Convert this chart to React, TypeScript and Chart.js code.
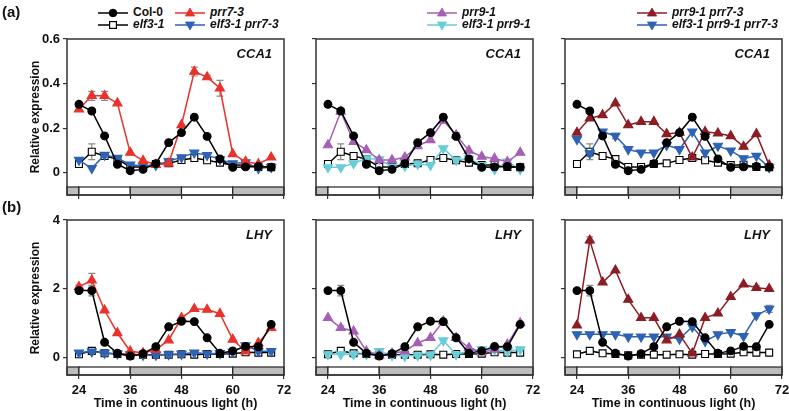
import React, { useEffect, useRef } from 'react';
import { Chart, registerables } from 'chart.js';

Chart.register(...registerables);

const FONT = '"Liberation Sans", Arial, Helvetica, sans-serif';
Chart.defaults.font.family = FONT;

// ---------- data ----------
const TIMES = [24, 27, 30, 33, 36, 39, 42, 45, 48, 51, 54, 57, 60, 63, 66, 69];
const X_TICKS = [24, 36, 48, 60, 72];
const X_MIN = 21.2;
const X_MAX = 72;
const PHOTO_EDGES = [21.2, 24, 36, 48, 60, 72];
const PHOTO_DARK = [true, false, true, false, true];

const Y_TICKS_CCA1 = [0, 0.2, 0.4, 0.6];
const Y_RANGE_CCA1 = [-0.1, 0.6];
const Y_TICKS_LHY = [0, 2, 4];
const Y_RANGE_LHY = [-0.5, 4];

// CCA1
const col0CCA1 = [0.307, 0.277, 0.165, 0.038, 0.009, 0.015, 0.041, 0.135, 0.18, 0.249, 0.163, 0.062, 0.024, 0.026, 0.028, 0.025];
const elf3CCA1 = [0.039, 0.094, 0.075, 0.061, 0.026, 0.026, 0.039, 0.042, 0.057, 0.066, 0.056, 0.045, 0.034, 0.036, 0.026, 0.025];
const prr7CCA1 = [0.285, 0.345, 0.345, 0.312, 0.09, 0.054, 0.036, 0.042, 0.214, 0.454, 0.429, 0.379, 0.084, 0.05, 0.039, 0.069];
const elf3prr7CCA1 = [0.057, 0.02, 0.08, 0.066, 0.036, 0.03, 0.034, 0.052, 0.069, 0.09, 0.079, 0.06, 0.042, 0.046, 0.02, 0.025];
const prr9CCA1 = [0.124, 0.274, 0.139, 0.102, 0.057, 0.057, 0.069, 0.12, 0.147, 0.234, 0.169, 0.099, 0.072, 0.064, 0.049, 0.09];
const elf3prr9CCA1 = [0.024, 0.024, 0.042, 0.064, 0.06, 0.027, 0.03, 0.039, 0.034, 0.109, 0.057, 0.064, 0.034, 0.015, 0.049, 0.015];
const prr9prr7CCA1 = [0.18, 0.244, 0.259, 0.312, 0.214, 0.229, 0.229, 0.174, 0.18, 0.069, 0.184, 0.177, 0.165, 0.117, 0.174, 0.034];
const tripleCCA1 = [0.15, 0.087, 0.184, 0.165, 0.105, 0.09, 0.09, 0.124, 0.105, 0.184, 0.09, 0.12, 0.099, 0.064, 0.075, 0.024];

// LHY
const col0LHY = [1.95, 1.95, 0.45, 0.13, 0.05, 0.12, 0.32, 0.9, 1.06, 1.05, 0.58, 0.13, 0.2, 0.33, 0.32, 0.97];
const elf3LHY = [0.1, 0.2, 0.13, 0.11, 0.07, 0.09, 0.09, 0.09, 0.1, 0.09, 0.11, 0.11, 0.12, 0.16, 0.15, 0.15];
const prr7LHY = [2.06, 2.25, 1.38, 0.72, 0.19, 0.14, 0.24, 0.51, 1.16, 1.42, 1.4, 1.28, 0.53, 0.19, 0.43, 0.87];
const elf3prr7LHY = [0.15, 0.18, 0.14, 0.12, 0.1, 0.08, 0.08, 0.1, 0.11, 0.15, 0.12, 0.13, 0.17, 0.36, 0.19, 0.19];
const prr9LHY = [1.16, 0.87, 0.77, 0.19, 0.07, 0.13, 0.19, 0.43, 0.58, 1.06, 0.58, 0.29, 0.16, 0.24, 0.39, 1.01];
const elf3prr9LHY = [0.1, 0.1, 0.1, 0.1, 0.19, 0.07, 0.05, 0.07, 0.08, 0.5, 0.1, 0.19, 0.24, 0.24, 0.19, 0.24];
const prr9prr7LHY = [0.94, 3.41, 2.19, 2.54, 1.69, 1.16, 1.16, 0.51, 0.68, 0.13, 1.16, 1.29, 1.77, 2.13, 2.03, 2.0];
const tripleLHY = [0.68, 0.68, 0.68, 0.68, 0.61, 0.61, 0.61, 0.61, 0.55, 0.9, 0.48, 0.68, 0.74, 0.63, 1.23, 1.42];

// error bars (SE), 0 = not visible
const errCol0CCA1 = [0.01, 0.01, 0, 0, 0, 0, 0, 0, 0, 0, 0, 0, 0, 0, 0, 0];
const errElf3CCA1 = [0, 0.035, 0, 0.005, 0, 0, 0, 0, 0, 0, 0, 0, 0, 0, 0, 0];
const errPrr7CCA1 = [0.01, 0.02, 0.02, 0, 0, 0, 0, 0, 0, 0.02, 0.008, 0.035, 0, 0, 0, 0];
const errPrr9CCA1 = [0, 0.01, 0, 0, 0, 0, 0, 0, 0, 0, 0.012, 0, 0, 0, 0, 0];
const errTripleCCA1 = [0, 0.015, 0, 0.012, 0, 0, 0, 0, 0, 0, 0, 0, 0, 0, 0, 0];
const errCol0LHY = [0.05, 0.15, 0, 0, 0, 0, 0, 0, 0, 0, 0, 0, 0, 0, 0, 0];
const errPrr7LHY = [0.05, 0.2, 0, 0, 0, 0, 0, 0, 0, 0, 0, 0, 0, 0, 0, 0];
const errPrr9LHY = [0, 0.06, 0, 0, 0, 0, 0, 0, 0, 0, 0, 0, 0, 0, 0, 0];
const errPrr9prr7LHY = [0, 0.1, 0, 0, 0, 0, 0, 0, 0, 0, 0, 0, 0, 0, 0.06, 0];
const errTripleLHY = [0, 0, 0, 0, 0, 0, 0, 0, 0, 0, 0, 0, 0, 0, 0, 0.1];

// ---------- styles ----------
const STYLES = {
  col0: { color: '#000000', fill: '#000000', point: 'circle', rot: 0, r: 3.9 },
  elf3: { color: '#000000', fill: '#ffffff', point: 'rect', rot: 0, r: 4.9 },
  prr7: { color: '#e8322b', fill: '#e8322b', point: 'triangle', rot: 0, r: 5.3 },
  elf3prr7: { color: '#2e62b4', fill: '#2e62b4', point: 'triangle', rot: 180, r: 5.3 },
  prr9: { color: '#a55fb4', fill: '#a55fb4', point: 'triangle', rot: 0, r: 5.3 },
  elf3prr9: { color: '#68cdd6', fill: '#68cdd6', point: 'triangle', rot: 180, r: 5.3 },
  prr9prr7: { color: '#8c1d25', fill: '#8c1d25', point: 'triangle', rot: 0, r: 5.3 },
  triple: { color: '#2e62b4', fill: '#2e62b4', point: 'triangle', rot: 180, r: 5.3 },
};

const PANELS = [
  { row: 0, col: 0, gene: 'CCA1', series: [
    { k: 'col0', data: col0CCA1, err: errCol0CCA1 },
    { k: 'prr7', data: prr7CCA1, err: errPrr7CCA1 },
    { k: 'elf3prr7', data: elf3prr7CCA1 },
    { k: 'elf3', data: elf3CCA1, err: errElf3CCA1 },
  ] },
  { row: 0, col: 1, gene: 'CCA1', series: [
    { k: 'col0', data: col0CCA1, err: errCol0CCA1 },
    { k: 'prr9', data: prr9CCA1, err: errPrr9CCA1 },
    { k: 'elf3prr9', data: elf3prr9CCA1 },
    { k: 'elf3', data: elf3CCA1, err: errElf3CCA1 },
  ] },
  { row: 0, col: 2, gene: 'CCA1', series: [
    { k: 'col0', data: col0CCA1, err: errCol0CCA1 },
    { k: 'prr9prr7', data: prr9prr7CCA1 },
    { k: 'triple', data: tripleCCA1, err: errTripleCCA1 },
    { k: 'elf3', data: elf3CCA1, err: errElf3CCA1 },
  ] },
  { row: 1, col: 0, gene: 'LHY', series: [
    { k: 'col0', data: col0LHY, err: errCol0LHY },
    { k: 'prr7', data: prr7LHY, err: errPrr7LHY },
    { k: 'elf3prr7', data: elf3prr7LHY },
    { k: 'elf3', data: elf3LHY },
  ] },
  { row: 1, col: 1, gene: 'LHY', series: [
    { k: 'col0', data: col0LHY, err: errCol0LHY },
    { k: 'prr9', data: prr9LHY, err: errPrr9LHY },
    { k: 'elf3prr9', data: elf3prr9LHY },
    { k: 'elf3', data: elf3LHY },
  ] },
  { row: 1, col: 2, gene: 'LHY', series: [
    { k: 'col0', data: col0LHY, err: errCol0LHY },
    { k: 'prr9prr7', data: prr9prr7LHY, err: errPrr9prr7LHY },
    { k: 'triple', data: tripleLHY, err: errTripleLHY },
    { k: 'elf3', data: elf3LHY },
  ] },
];

// ---------- geometry ----------
const PLOT_LEFTS = [67, 316, 565];
const PLOT_W = 217;
const ROW_TOPS = [39, 220];
const ROW_H = [156, 155];
const AXIS_W = 62;
const PAD_T = 12;
const PAD_R = 12;
const BOTTOM_H = [12, 35];

const decorPlugin = {
  id: 'panelDecor',
  beforeDatasetsDraw(chart) {
    const { ctx, chartArea: a, scales } = chart;
    const x = scales.x;
    const y = scales.y;
    ctx.save();
    const barTop = a.bottom - 8;
    for (let i = 0; i < PHOTO_DARK.length; i++) {
      const x0 = x.getPixelForValue(PHOTO_EDGES[i]);
      const x1 = x.getPixelForValue(PHOTO_EDGES[i + 1]);
      ctx.fillStyle = PHOTO_DARK[i] ? '#bdbdbd' : '#ffffff';
      ctx.fillRect(x0, barTop, x1 - x0, a.bottom - barTop);
      ctx.strokeStyle = '#222';
      ctx.lineWidth = 1.2;
      ctx.strokeRect(x0, barTop, x1 - x0, a.bottom - barTop);
    }
    chart.data.datasets.forEach((ds) => {
      const errs = ds.errors;
      if (!errs) return;
      ds.data.forEach((p, i) => {
        const e = errs[i];
        if (!e) return;
        const px = x.getPixelForValue(p.x);
        const yt = y.getPixelForValue(p.y + e);
        const yb = y.getPixelForValue(p.y - e);
        ctx.strokeStyle = '#8a8a8a';
        ctx.lineWidth = 1.2;
        ctx.beginPath();
        ctx.moveTo(px, yt); ctx.lineTo(px, yb);
        ctx.moveTo(px - 3.5, yt); ctx.lineTo(px + 3.5, yt);
        ctx.moveTo(px - 3.5, yb); ctx.lineTo(px + 3.5, yb);
        ctx.stroke();
      });
    });
    ctx.restore();
  },
  afterDatasetsDraw(chart, args, opts) {
    const { ctx, chartArea: a } = chart;
    ctx.save();
    ctx.strokeStyle = '#333';
    ctx.lineWidth = 1.5;
    ctx.strokeRect(a.left, a.top, a.right - a.left, a.bottom - a.top);
    ctx.fillStyle = '#111';
    ctx.font = `italic bold 13px ${FONT}`;
    ctx.textAlign = 'right';
    ctx.textBaseline = 'middle';
    ctx.fillText(opts.gene, a.right - 12, a.top + 15);
    ctx.restore();
  },
};

function Panel({ def }) {
  const ref = useRef(null);
  const isBottom = def.row === 1;
  const isLeft = def.col === 0;
  const W = AXIS_W + PLOT_W + PAD_R;
  const H = PAD_T + ROW_H[def.row] + BOTTOM_H[def.row];
  const left = PLOT_LEFTS[def.col] - AXIS_W;
  const top = ROW_TOPS[def.row] - PAD_T;
  const yTicks = isBottom ? Y_TICKS_LHY : Y_TICKS_CCA1;
  const yRange = isBottom ? Y_RANGE_LHY : Y_RANGE_CCA1;

  useEffect(() => {
    const chart = new Chart(ref.current, {
      type: 'line',
      data: {
        datasets: def.series.map((s) => {
          const st = STYLES[s.k];
          return {
            label: s.k,
            data: TIMES.map((t, i) => ({ x: t, y: s.data[i] })),
            errors: s.err,
            borderColor: st.color,
            backgroundColor: st.fill,
            borderWidth: 1.5,
            pointStyle: st.point,
            pointRotation: st.rot,
            pointRadius: st.r,
            pointBackgroundColor: st.fill,
            pointBorderColor: st.color,
            pointBorderWidth: 1.1,
            tension: 0,
            clip: 8,
          };
        }),
      },
      options: {
        responsive: false,
        animation: false,
        devicePixelRatio: 1,
        events: [],
        layout: { padding: { top: PAD_T, right: PAD_R, left: 0, bottom: 0 } },
        plugins: {
          legend: { display: false },
          tooltip: { enabled: false },
          panelDecor: { gene: def.gene },
        },
        scales: {
          x: {
            type: 'linear',
            min: X_MIN,
            max: X_MAX,
            afterBuildTicks: (sc) => { sc.ticks = X_TICKS.map((v) => ({ value: v })); },
            afterFit: (sc) => { sc.height = BOTTOM_H[def.row]; },
            grid: { drawOnChartArea: false, drawTicks: true, tickLength: 4, color: '#333', lineWidth: 1.2 },
            border: { display: false },
            ticks: {
              display: isBottom,
              autoSkip: false,
              maxRotation: 0,
              padding: 4,
              color: '#111',
              font: { size: 13, weight: 'bold', family: FONT },
              callback: (v) => String(v),
            },
            title: {
              display: isBottom,
              text: 'Time in continuous light (h)',
              color: '#111',
              font: { size: 12.5, weight: 'bold', family: FONT, lineHeight: 1 },
              padding: { top: 0, bottom: 0 },
            },
          },
          y: {
            type: 'linear',
            min: yRange[0],
            max: yRange[1],
            afterBuildTicks: (sc) => { sc.ticks = yTicks.map((v) => ({ value: v })); },
            afterFit: (sc) => { sc.width = AXIS_W; },
            grid: { drawOnChartArea: false, drawTicks: true, tickLength: 4, color: '#333', lineWidth: 1.2 },
            border: { display: false },
            ticks: {
              display: isLeft,
              padding: 3,
              color: '#111',
              font: { size: 13, weight: 'bold', family: FONT },
              callback: (v) => String(v),
            },
          },
        },
      },
      plugins: [decorPlugin],
    });
    return () => chart.destroy();
  }, []);

  return (
    <canvas
      ref={ref}
      width={W}
      height={H}
      style={{ position: 'absolute', left, top, width: W, height: H }}
    />
  );
}

function Marker({ k, cx, cy }) {
  const s = STYLES[k];
  if (s.point === 'circle') return <circle cx={cx} cy={cy} r={3.8} fill={s.fill} stroke={s.color} strokeWidth={1} />;
  if (s.point === 'rect') return <rect x={cx - 3.4} y={cy - 3.4} width={6.8} height={6.8} fill="#fff" stroke="#000" strokeWidth={1.2} />;
  const pts = s.rot === 180
    ? `${cx},${cy + 5} ${cx + 4.6},${cy - 3} ${cx - 4.6},${cy - 3}`
    : `${cx},${cy - 5} ${cx + 4.6},${cy + 3} ${cx - 4.6},${cy + 3}`;
  return <polygon points={pts} fill={s.fill} stroke={s.color} strokeWidth={0.8} />;
}

const LEGEND_ITEMS = [
  { x: 98, y: 13, k: 'col0', text: 'Col-0', italic: false },
  { x: 175, y: 13, k: 'prr7', text: 'prr7-3', italic: true },
  { x: 98, y: 25, k: 'elf3', text: 'elf3-1', italic: true },
  { x: 175, y: 25, k: 'elf3prr7', text: 'elf3-1 prr7-3', italic: true },
  { x: 427, y: 13, k: 'prr9', text: 'prr9-1', italic: true },
  { x: 427, y: 25, k: 'elf3prr9', text: 'elf3-1 prr9-1', italic: true },
  { x: 637, y: 13, k: 'prr9prr7', text: 'prr9-1 prr7-3', italic: true },
  { x: 637, y: 25, k: 'triple', text: 'elf3-1 prr9-1 prr7-3', italic: true },
];

function LegendItem({ item }) {
  const s = STYLES[item.k];
  return (
    <>
      <svg width={30} height={12} style={{ position: 'absolute', left: item.x, top: item.y - 6 }}>
        <line x1={0} y1={6} x2={30} y2={6} stroke={s.color} strokeWidth={1.5} />
        <Marker k={item.k} cx={15} cy={6} />
      </svg>
      <div
        style={{
          position: 'absolute', left: item.x + 35, top: item.y - 8, height: 16, lineHeight: '16px',
          font: `${item.italic ? 'italic ' : ''}bold 12px ${FONT}`, color: '#111', whiteSpace: 'nowrap',
        }}
      >
        {item.text}
      </div>
    </>
  );
}

const textStyle = { position: 'absolute', font: `bold 12px ${FONT}`, color: '#111', whiteSpace: 'nowrap' };

export default function App() {
  return (
    <div style={{ position: 'absolute', left: 0, top: 0, width: 789, height: 411, background: '#fff', overflow: 'hidden' }}>
      {PANELS.map((p, i) => <Panel key={i} def={p} />)}
      {LEGEND_ITEMS.map((it, i) => <LegendItem key={i} item={it} />)}
      <div style={{ ...textStyle, left: 2, top: 3, font: `bold 15px ${FONT}` }}>(a)</div>
      <div style={{ ...textStyle, left: 2, top: 198, font: `bold 15px ${FONT}` }}>(b)</div>
      {ROW_TOPS.map((t, i) => (
        <div
          key={i}
          style={{
            ...textStyle, left: 35, top: t + ROW_H[i] / 2,
            transform: 'translate(-50%, -50%) rotate(-90deg)',
          }}
        >
          Relative expression
        </div>
      ))}
    </div>
  );
}
